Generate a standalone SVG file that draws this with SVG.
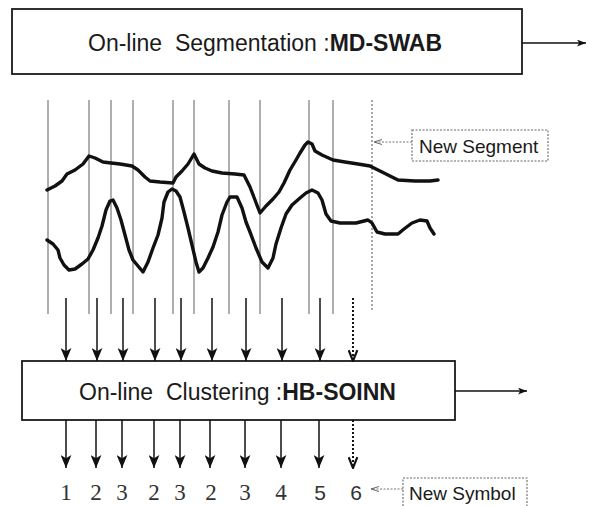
<svg xmlns="http://www.w3.org/2000/svg" width="589" height="506" viewBox="0 0 589 506">
<style>
.box{fill:#fff;stroke:#1a1a1a;stroke-width:1.8}
.title{font-family:"Liberation Sans",Arial,sans-serif;font-size:23px;fill:#1a1a1a}
.b{font-weight:bold}
.seg{stroke:#7a7a7a;stroke-width:1.2;fill:none}
.segd{stroke:#7a7a7a;stroke-width:1.3;fill:none;stroke-dasharray:2 2}
.wave{fill:none;stroke:#111;stroke-width:3.4;stroke-linejoin:round;stroke-linecap:round}
.arr{stroke:#111;stroke-width:1.5;fill:none}
.arrd{stroke:#111;stroke-width:2;fill:none;stroke-dasharray:2 2}
.note{fill:#fff;stroke:#666;stroke-width:1.1;stroke-dasharray:2 1.5}
.notet{font-family:"Liberation Sans",Arial,sans-serif;font-size:19px;fill:#1a1a1a}
.num{font-family:"Liberation Serif","Times New Roman",serif;font-size:23px;fill:#333;text-anchor:middle}
.nums{font-family:"Liberation Sans",Arial,sans-serif;font-size:21px;fill:#333;text-anchor:middle}
.thin{stroke:#111;stroke-width:1.4;fill:none}
.thing{stroke:#777;stroke-width:1;fill:none;stroke-dasharray:2 1.5}
</style>
<defs>
<marker id="ah" viewBox="0 0 12 10" refX="12" refY="5" markerWidth="13" markerHeight="11" markerUnits="userSpaceOnUse" orient="auto">
<path d="M0,0 L12,5 L0,10 L3,5 z" fill="#111"/>
</marker>
<marker id="ahd" viewBox="0 0 12 10" refX="11" refY="5" markerWidth="13" markerHeight="11" markerUnits="userSpaceOnUse" orient="auto">
<path d="M1,1 L11,5 L1,9" fill="none" stroke="#111" stroke-width="2"/>
</marker>
<marker id="ahs" viewBox="0 0 8 6" refX="8" refY="3" markerWidth="9" markerHeight="7" markerUnits="userSpaceOnUse" orient="auto">
<path d="M0,0 L8,3 L0,6 L2,3 z" fill="#111"/>
</marker>
<marker id="ahg" viewBox="0 0 8 6" refX="8" refY="3" markerWidth="8" markerHeight="6" markerUnits="userSpaceOnUse" orient="auto">
<path d="M0,0.5 L8,3 L0,5.5" fill="none" stroke="#666" stroke-width="1"/>
</marker>
</defs>

<g id="segmentation">
<rect class="box" x="12" y="9" width="510" height="65"/>
<text class="title" x="88" y="51">On-line&#160; Segmentation :<tspan class="b">MD-SWAB</tspan></text>
</g>

<g id="clustering">
<rect class="box" x="22" y="361" width="433" height="59"/>
<text class="title" x="79" y="400">On-line&#160; Clustering :<tspan class="b">HB-SOINN</tspan></text>
</g>

<g id="segment-lines">
<line class="seg" x1="48" y1="100" x2="48" y2="314"/>
<line class="seg" x1="89" y1="100" x2="89" y2="314"/>
<line class="seg" x1="111" y1="100" x2="111" y2="314"/>
<line class="seg" x1="133" y1="100" x2="133" y2="314"/>
<line class="seg" x1="173" y1="100" x2="173" y2="314"/>
<line class="seg" x1="194" y1="100" x2="194" y2="314"/>
<line class="seg" x1="229" y1="100" x2="229" y2="314"/>
<line class="seg" x1="260" y1="100" x2="260" y2="314"/>
<line class="seg" x1="309" y1="100" x2="309" y2="314"/>
<line class="seg" x1="333" y1="100" x2="333" y2="314"/>
<line class="segd" x1="372" y1="100" x2="372" y2="312"/>
</g>

<g id="signals">
<polyline class="wave" points="47,190 55,186 62,181 67,174 75,170 83,164 89,156 95,158 103,162 111,163 120,164 132,166 138,170 145,177 150,181 160,182 173,183 176,177 182,171 188,164 194,154 199,164 205,168 212,171 222,173 235,174 244,175 250,187 255,200 260,213 266,206 273,199 279,192 284,183 290,170 296,160 300,153 305,145 308,142 312,144 315,151 322,155 333,160 345,162 358,164 370,166 380,171 390,176 398,180 415,181 430,181 438,180"/>
<polyline class="wave" points="47,240 53,244 58,250 60,258 64,265 69,270 75,269 82,264 88,259 93,250 98,238 102,226 106,210 110,201 113,200 117,208 121,220 125,235 129,250 133,260 138,266 143,272 148,262 153,248 158,235 162,218 164,202 168,192 172,189 176,191 180,197 184,212 188,228 192,245 196,262 199,272 203,268 208,258 213,247 218,232 222,215 227,202 230,197 237,197 242,208 246,222 250,232 256,248 262,262 268,268 273,258 276,244 281,228 286,214 292,205 300,198 306,193 312,190 318,193 322,200 326,214 331,221 340,223 356,223 368,220 372,223 377,232 385,234 398,234 404,229 412,223 420,220 427,221 430,228 434,234"/>
</g>

<g id="new-segment">
<rect class="note" x="412" y="130" width="136" height="31"/>
<text class="notet" x="419" y="153">New Segment</text>
</g>

<g id="new-symbol">
<rect class="note" x="403" y="478" width="124" height="30"/>
<text class="notet" x="409" y="500">New Symbol</text>
</g>

<g id="symbols">
<text class="num" x="66" y="500">1</text>
<text class="num" x="96" y="500">2</text>
<text class="num" x="122" y="500">3</text>
<text class="num" x="154" y="500">2</text>
<text class="num" x="180" y="500">3</text>
<text class="num" x="211" y="500">2</text>
<text class="num" x="245" y="500">3</text>
<text class="num" x="281" y="500">4</text>
<text class="nums" x="320" y="500">5</text>
<text class="nums" x="356" y="500">6</text>
</g>

<g id="connectors">
<line class="thin" x1="522" y1="43" x2="586" y2="43" marker-end="url(#ahs)"/>
<line class="thin" x1="455" y1="391" x2="527" y2="391" marker-end="url(#ahs)"/>
<line class="arr" x1="66" y1="298" x2="66" y2="361" marker-end="url(#ah)"/>
<line class="arr" x1="97" y1="298" x2="97" y2="361" marker-end="url(#ah)"/>
<line class="arr" x1="123" y1="298" x2="123" y2="361" marker-end="url(#ah)"/>
<line class="arr" x1="155" y1="298" x2="155" y2="361" marker-end="url(#ah)"/>
<line class="arr" x1="181" y1="298" x2="181" y2="361" marker-end="url(#ah)"/>
<line class="arr" x1="212" y1="298" x2="212" y2="361" marker-end="url(#ah)"/>
<line class="arr" x1="246" y1="298" x2="246" y2="361" marker-end="url(#ah)"/>
<line class="arr" x1="282" y1="298" x2="282" y2="361" marker-end="url(#ah)"/>
<line class="arr" x1="320" y1="298" x2="320" y2="361" marker-end="url(#ah)"/>
<line class="arrd" x1="353" y1="298" x2="353" y2="361" marker-end="url(#ahd)"/>
<line class="arr" x1="66" y1="420" x2="66" y2="468" marker-end="url(#ah)"/>
<line class="arr" x1="96" y1="420" x2="96" y2="468" marker-end="url(#ah)"/>
<line class="arr" x1="122" y1="420" x2="122" y2="468" marker-end="url(#ah)"/>
<line class="arr" x1="154" y1="420" x2="154" y2="468" marker-end="url(#ah)"/>
<line class="arr" x1="180" y1="420" x2="180" y2="468" marker-end="url(#ah)"/>
<line class="arr" x1="210" y1="420" x2="210" y2="468" marker-end="url(#ah)"/>
<line class="arr" x1="245" y1="420" x2="245" y2="468" marker-end="url(#ah)"/>
<line class="arr" x1="281" y1="420" x2="281" y2="468" marker-end="url(#ah)"/>
<line class="arr" x1="319" y1="420" x2="319" y2="468" marker-end="url(#ah)"/>
<line class="arrd" x1="353" y1="420" x2="353" y2="468" marker-end="url(#ahd)"/>
<line class="thing" x1="412" y1="142" x2="374" y2="142" marker-end="url(#ahg)"/>
<line class="thing" x1="403" y1="489" x2="371" y2="489" marker-end="url(#ahg)"/>
</g>
</svg>
